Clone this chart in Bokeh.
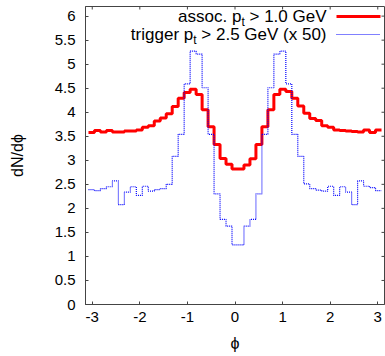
import numpy as np
from bokeh.plotting import figure
from bokeh.models import Range1d, FixedTicker
from bokeh.core.properties import value
from bokeh.embed import file_html
from bokeh.resources import INLINE

# ---------------- data ----------------
n_bins = 50
assoc = [3.58, 3.62, 3.59, 3.62, 3.59, 3.59, 3.61, 3.61, 3.63, 3.69,
         3.72, 3.82, 3.88, 3.97, 4.12, 4.29, 4.41, 4.48, 4.37, 4.05,
         3.70, 3.33, 3.04, 2.92, 2.82, 2.82, 2.90, 3.03, 3.33, 3.70,
         4.05, 4.37, 4.48, 4.43, 4.29, 4.13, 3.98, 3.87, 3.83, 3.72,
         3.69, 3.63, 3.62, 3.61, 3.60, 3.59, 3.63, 3.58, 3.63, 3.63]
trigger = [2.39, 2.37, 2.41, 2.45, 2.57, 2.08, 2.34, 2.45, 2.27, 2.46,
           2.36, 2.39, 2.41, 2.50, 3.08, 3.54, 4.59, 5.27, 5.21, 4.51,
           3.54, 2.30, 1.77, 1.63, 1.24, 1.24, 1.63, 1.77, 2.30, 3.54,
           4.51, 5.21, 5.27, 4.59, 3.54, 3.08, 2.51, 2.41, 2.38, 2.36,
           2.46, 2.27, 2.45, 2.34, 2.08, 2.57, 2.46, 2.43, 2.37, 2.37]
x_ticks = [-3, -2, -1, 0, 1, 2, 3]
x_tick_labels = ["-3", "-2", "-1", "0", "1", "2", "3"]
y_ticks = [0, 0.5, 1, 1.5, 2, 2.5, 3, 3.5, 4, 4.5, 5, 5.5, 6]
y_tick_labels = ["0", "0.5", "1", "1.5", "2", "2.5", "3", "3.5", "4", "4.5", "5", "5.5", "6"]
legend_parts = [("assoc. p", "t", "> 1.0 GeV"),
                ("trigger p", "t", "> 2.5 GeV (x 50)")]
x_label = "\u03d5"
y_label = "dN/d\u03d5"

# bin centres
phi = -np.pi + (np.arange(n_bins) + 0.5) * 2 * np.pi / n_bins

# ---------------- figure ----------------
W, H = 385, 356
BL, BR, BT, BB = 85, 1, 6, 52
XMIN, XMAX, YMIN, YMAX = -np.pi, np.pi, 0.0, 6.2
FONT = "Liberation Sans"
AXC = "#444444"
TICK = 3

p = figure(width=W, height=H, x_range=Range1d(XMIN, XMAX), y_range=Range1d(YMIN, YMAX),
           output_backend="svg", toolbar_location=None,
           min_border_left=BL, min_border_right=BR, min_border_top=BT, min_border_bottom=BB)
p.xgrid.visible = False
p.ygrid.visible = False
p.outline_line_color = AXC
p.outline_line_width = 1
p.background_fill_color = "white"
p.border_fill_color = "white"

for ax in p.xaxis:
    ax.ticker = FixedTicker(ticks=x_ticks)
    ax.major_label_overrides = {t: l for t, l in zip(x_ticks, x_tick_labels)}
    ax.axis_label = x_label
    ax.major_label_standoff = 7
    ax.axis_label_standoff = 10
for ax in p.yaxis:
    ax.ticker = FixedTicker(ticks=y_ticks)
    ax.major_label_overrides = {t: l for t, l in zip(y_ticks, y_tick_labels)}
    ax.axis_label = y_label
    ax.major_label_standoff = 10
    ax.axis_label_standoff = 26

for ax in list(p.xaxis) + list(p.yaxis):
    ax.major_tick_in = TICK
    ax.major_tick_out = 0
    ax.minor_tick_line_color = None
    ax.axis_line_color = AXC
    ax.major_tick_line_color = AXC
    ax.major_label_text_font = FONT
    ax.major_label_text_font_size = "15px"
    ax.major_label_text_color = "black"
    ax.axis_label_text_font = FONT
    ax.axis_label_text_font_size = "16px"
    ax.axis_label_text_font_style = "normal"
    ax.axis_label_text_color = "black"

FW = W - BL - BR
FH = H - BT - BB


def dx(px):
    return XMIN + (px - BL) / FW * (XMAX - XMIN)


def dy(py):
    return YMAX - (py - BT) / FH * (YMAX - YMIN)


# mirror ticks on top / right edges (gnuplot style)
tick_dx = TICK / FW * (XMAX - XMIN)
tick_dy = TICK / FH * (YMAX - YMIN)
p.segment(x0=x_ticks, y0=[YMAX] * len(x_ticks), x1=x_ticks, y1=[YMAX - tick_dy] * len(x_ticks),
          line_color=AXC, line_width=1)
p.segment(x0=[XMAX] * len(y_ticks), y0=y_ticks, x1=[XMAX - tick_dx] * len(y_ticks), y1=y_ticks,
          line_color=AXC, line_width=1)

# ---------------- data lines ----------------
p.step(phi, assoc, mode="after", line_color="#ff0000", line_width=3)
p.step(phi, trigger, mode="after", line_color="#0000ff", line_width=1.2, line_dash="1 1")

# ---------------- legend (gnuplot style: text then sample) ----------------
ARIAL = {' ': 278, 'a': 556, 's': 500, 'o': 556, 'c': 500, '.': 278, 'p': 556, 't': 278,
         'r': 333, 'i': 222, 'g': 556, 'e': 556, '>': 584, '0': 556, '1': 556, '2': 556,
         '5': 556, 'G': 778, 'V': 667, '(': 333, 'x': 500, ')': 333}


def tw(s, size):
    return sum(ARIAL.get(c, 556) for c in s) / 1000.0 * size


LEG_FS, SUB_FS = 17, 12
R_PX = 326
ROWS_PX = [16, 34]
SAMPLE = (336, 380)
styles = [dict(line_color="#ff0000", line_width=3),
          dict(line_color="#0000ff", line_width=1.2, line_dash="1 1")]

for (head, sub, tail), ypx, st in zip(legend_parts, ROWS_PX, styles):
    yd = dy(ypx)
    p.line([dx(SAMPLE[0]), dx(SAMPLE[1])], [yd, yd], **st)
    tail_w = tw(tail, LEG_FS) + tw(" ", LEG_FS)
    sub_w = tw(sub, SUB_FS)
    common = dict(text_align="right", text_baseline="middle", text_font=value(FONT),
                  text_color="black")
    p.text(x=[dx(R_PX)], y=[yd], text=[tail], text_font_size=f"{LEG_FS}px", **common)
    p.text(x=[dx(R_PX - tail_w)], y=[yd], text=[sub], text_font_size=f"{SUB_FS}px",
           y_offset=5, **common)
    p.text(x=[dx(R_PX - tail_w - sub_w)], y=[yd], text=[head],
           text_font_size=f"{LEG_FS}px", **common)

open("out.html", "w").write(file_html(p, INLINE))
